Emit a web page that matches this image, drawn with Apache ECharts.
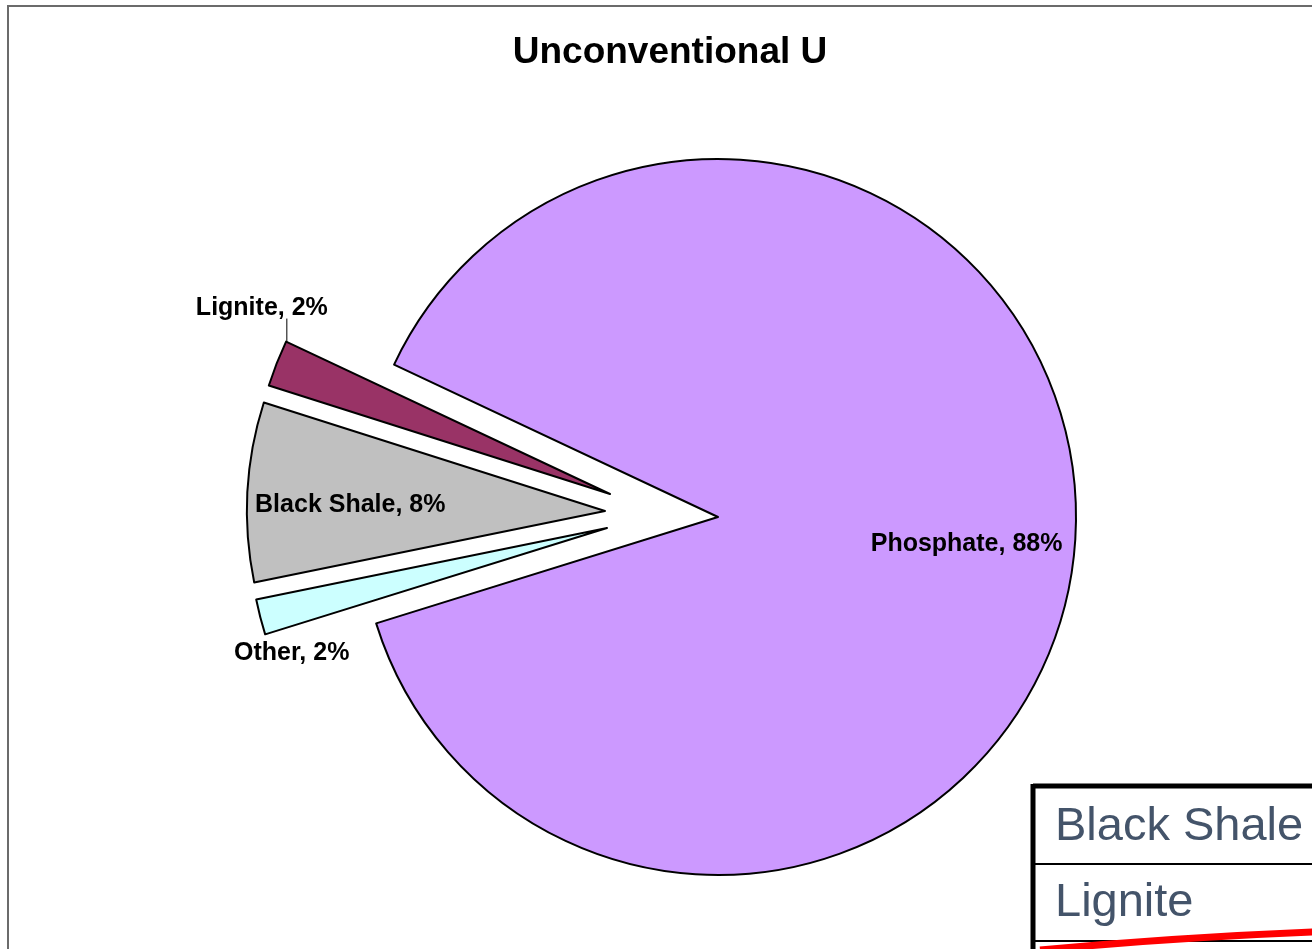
<!DOCTYPE html>
<html>
<head>
<meta charset="utf-8">
<title>Unconventional U</title>
<script src="https://cdn.jsdelivr.net/npm/echarts@6/dist/echarts.min.js"></script>
<style>
    html, body { margin: 0; padding: 0; background: #fff; }
    #chart { width: 1312px; height: 949px; }
</style>
</head>
<body>
<div id="chart"></div>
<script>
// slices in drawing order (clockwise from the Phosphate edge)
const categories = ['Phosphate', 'Other', 'Black Shale', 'Lignite'];
const shares = [88.2, 1.6, 8.1, 2.1];
const sliceColors = ['#CC99FF', '#CCFFFF', '#C0C0C0', '#993366'];
// rows of the table fragment in the corner
const tableRows = ['Black Shale', 'Lignite'];

// layout: pie centre, and how far each slice is pulled out (px)
const pieCenter = [718, 517];
const pieRadius = 358;
const explode = [[0, 0], [-111, 11], [-113, -6], [-108, -23]];
// label nudges for the inside labels
const labelOffsets = [[67, 15], [-139, 80], [-73, 4], null];

const chart = echarts.init(document.getElementById('chart'));

const font = '"Liberation Sans", Arial, sans-serif';

// one pie series per slice, so each slice can be pulled out on its own;
// every series gets all the values so the angles come from the library
function sliceSeries(k) {
    return {
        type: 'pie',
        name: categories[k],
        center: [pieCenter[0] + explode[k][0], pieCenter[1] + explode[k][1]],
        radius: [0, pieRadius],
        startAngle: 154.8,
        clockwise: true,
        silent: true,
        avoidLabelOverlap: false,
        emphasis: { disabled: true },
        z: 2 + k,
        label: {
            show: false,
            fontFamily: font,
            fontWeight: 'bold',
            fontSize: 25,
            color: '#000',
            formatter: p => p.name + ', ' + Math.round(p.percent) + '%'
        },
        labelLine: { show: false, lineStyle: { color: '#000', width: 1 } },
        labelLayout: categories[k] !== 'Lignite' ? null : function (params) {
            if (params.dataIndex !== k) return {};
            const r = params.rect;
            const lx = r.x + 19;
            return {
                x: lx - 25,
                y: r.y - 32,
                align: 'center',
                verticalAlign: 'middle',
                labelLinePoints: [[lx, r.y + 2], [lx, r.y - 22], [lx, r.y - 22]]
            };
        },
        data: categories.map((name, i) => {
            if (i !== k) {
                return {
                    name: name,
                    value: shares[i],
                    itemStyle: { color: 'rgba(0,0,0,0)', borderWidth: 0 },
                    label: { show: false },
                    labelLine: { show: false }
                };
            }
            const item = {
                name: name,
                value: shares[i],
                itemStyle: { color: sliceColors[i], borderColor: '#000', borderWidth: 2 }
            };
            if (labelOffsets[i]) {
                item.label = { show: true, position: 'inside', offset: labelOffsets[i] };
            } else {
                item.label = { show: true, position: 'outside' };
                item.labelLine = { show: true };
            }
            return item;
        })
    };
}

const option = {
    animation: false,
    title: {
        text: 'Unconventional U',
        left: 665,
        top: 29,
        textAlign: 'center',
        textStyle: {
            fontFamily: font,
            fontWeight: 'bold',
            fontSize: 37,
            color: '#000'
        }
    },
    graphic: [
        // chart frame
        {
            type: 'rect',
            shape: { x: 8, y: 6, width: 1340, height: 990 },
            style: { fill: null, stroke: '#6b6b6b', lineWidth: 2 },
            z: 0
        },
        // table fragment
        {
            type: 'rect',
            shape: { x: 1033, y: 786, width: 300, height: 200 },
            style: { fill: '#fff', stroke: null },
            z: 10
        },
        {
            type: 'line',
            shape: { x1: 1033, y1: 786, x2: 1320, y2: 786 },
            style: { stroke: '#000', lineWidth: 5 },
            z: 11
        },
        {
            type: 'line',
            shape: { x1: 1033, y1: 784, x2: 1033, y2: 960 },
            style: { stroke: '#000', lineWidth: 5 },
            z: 11
        },
        {
            type: 'line',
            shape: { x1: 1033, y1: 864, x2: 1320, y2: 864 },
            style: { stroke: '#000', lineWidth: 2 },
            z: 11
        },
        {
            type: 'line',
            shape: { x1: 1033, y1: 941, x2: 1320, y2: 941 },
            style: { stroke: '#000', lineWidth: 2 },
            z: 11
        }
    ].concat(tableRows.map((t, i) => ({
        type: 'text',
        x: 1055,
        y: 827 + i * 76,
        style: {
            text: t,
            fontFamily: font,
            fontSize: 47,
            fill: '#44546A',
            verticalAlign: 'middle'
        },
        z: 12
    }))).concat([
        // red pen stroke
        {
            type: 'bezierCurve',
            shape: { x1: 1040, y1: 950, cpx1: 1140, cpy1: 941, cpx2: 1240, cpy2: 935, x2: 1315, y2: 932 },
            style: { stroke: '#FF0000', lineWidth: 7, fill: null },
            z: 13
        }
    ]),
    series: categories.map((c, k) => sliceSeries(k))
};

chart.setOption(option);
</script>
</body>
</html>
